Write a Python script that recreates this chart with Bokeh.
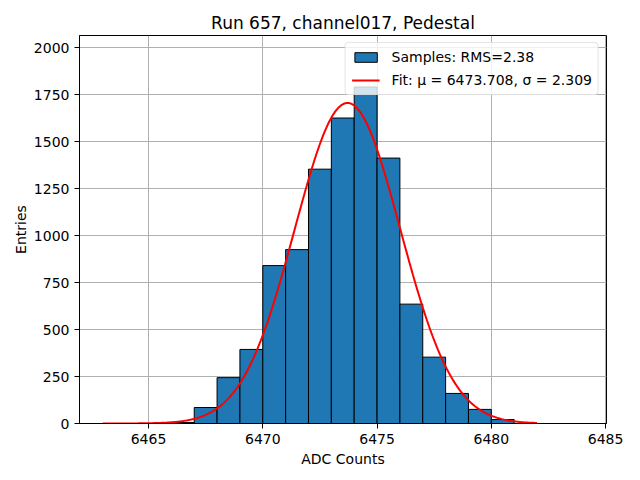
import numpy as np
from bokeh.plotting import figure
from bokeh.models import Range1d, FixedTicker, Legend, LegendItem, ColumnDataSource
from bokeh.embed import file_html
from bokeh.resources import INLINE

# Histogram data (bin left edges, width 1)
bin_left = [6466, 6467, 6468, 6469, 6470, 6471, 6472, 6473, 6474, 6475,
            6476, 6477, 6478, 6479, 6480]
counts = [5, 85, 244, 394, 840, 925, 1353, 1625, 1790, 1412,
          635, 353, 160, 75, 21]
bin_width = 1.0

# Fit parameters (from legend) and peak height
fit_mu = 6473.708
fit_sigma = 2.309
fit_peak = 1705
fit_x_start = 6463
fit_x_end = 6482

title_text = "Run 657, channel017, Pedestal"
rms_label = "Samples: RMS=2.38"
fit_label = "Fit: \u03bc = 6473.708, \u03c3 = 2.309"
x_ticks = [6465, 6470, 6475, 6480, 6485]
y_ticks = [0, 250, 500, 750, 1000, 1250, 1500, 1750, 2000]

FONT = "DejaVu Sans"

p = figure(width=631, height=473, output_backend="svg", toolbar_location=None,
           x_range=Range1d(6461.98, 6485.04), y_range=Range1d(0, 2064),
           min_border_left=79, min_border_right=25, min_border_top=35,
           min_border_bottom=50)

p.title.text = title_text
p.title.align = "center"
p.title.text_font = FONT
p.title.text_font_size = "17px"
p.title.text_font_style = "normal"
p.title.text_color = "black"
p.title.standoff = 6

centers = [b + bin_width / 2 for b in bin_left]
src = ColumnDataSource(dict(x=centers, top=counts))
bars = p.vbar(x="x", top="top", width=bin_width, bottom=0, source=src,
              fill_color="#1f77b4", line_color="black", line_width=1)

xs = np.linspace(fit_x_start, fit_x_end, 400)
ys = fit_peak * np.exp(-0.5 * ((xs - fit_mu) / fit_sigma) ** 2)
fit_line = p.line(xs, ys, line_color="red", line_width=2)

for ax, ticks in ((p.xaxis, x_ticks), (p.yaxis, y_ticks)):
    ax.ticker = FixedTicker(ticks=ticks)
    ax.major_label_text_font = FONT
    ax.major_label_text_font_size = "14px"
    ax.major_label_text_color = "black"
    ax.axis_label_text_font = FONT
    ax.axis_label_text_font_size = "14px"
    ax.axis_label_text_font_style = "normal"
    ax.axis_label_text_color = "black"
    ax.minor_tick_line_color = None
    ax.major_tick_in = 0
    ax.major_tick_out = 5
    ax.major_tick_line_color = "black"
    ax.axis_line_color = "black"

p.xaxis.axis_label = "ADC Counts"
p.yaxis.axis_label = "Entries"
p.xaxis.axis_label_standoff = 4
p.yaxis.axis_label_standoff = 2

p.xgrid.ticker = FixedTicker(ticks=x_ticks)
p.ygrid.ticker = FixedTicker(ticks=y_ticks)
p.grid.grid_line_color = "#b0b0b0"
p.grid.grid_line_width = 1
p.outline_line_color = "black"
p.outline_line_width = 1

legend = Legend(items=[LegendItem(label=rms_label, renderers=[bars]),
                       LegendItem(label=fit_label, renderers=[fit_line])],
                location="top_right")
legend.label_text_font = FONT
legend.label_text_font_size = "14px"
legend.label_text_color = "black"
legend.background_fill_alpha = 0.8
legend.border_line_color = "#cccccc"
legend.border_line_width = 1
legend.border_radius = 4
legend.glyph_width = 28
legend.glyph_height = 12
legend.spacing = 7
legend.padding = 6
legend.margin = 7
legend.label_standoff = 12
p.add_layout(legend)

open("out.html", "w").write(file_html(p, INLINE))
